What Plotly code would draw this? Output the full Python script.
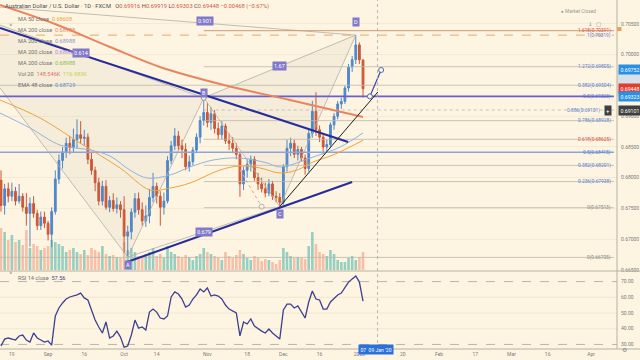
import plotly.graph_objects as go

# ---------------- data ----------------
# trading-day index: 0 = 19 Aug 2019 ... 97 = 03 Jan 2020 (holidays 25 Dec / 1 Jan skipped)
bar_idx = list(range(-3, 98))
opens = [0.6796, 0.6755, 0.6782, 0.6770, 0.6778, 0.6762, 0.6770, 0.6752, 0.6742, 0.6758, 0.6742, 0.6722, 0.6736,
         0.6726, 0.6708, 0.6745, 0.6798, 0.6828, 0.6842, 0.6856, 0.6849, 0.6862, 0.6870, 0.6864, 0.6866, 0.6830, 0.6812,
         0.6792, 0.6762, 0.6786, 0.6752, 0.6763, 0.6750, 0.6756, 0.6748,
         0.6705, 0.6712, 0.6744, 0.6766, 0.6748, 0.6730, 0.6738, 0.6768, 0.6786, 0.6770, 0.6752, 0.6762, 0.6828, 0.6852,
         0.6868, 0.6852, 0.6846, 0.6818, 0.6826, 0.6845, 0.6866, 0.6893,
         0.6906, 0.6890, 0.6904, 0.6880, 0.6870, 0.6884, 0.6860, 0.6856, 0.6848, 0.6838, 0.6790, 0.6812, 0.6822, 0.6830,
         0.6800, 0.6790, 0.6782, 0.6775, 0.6790, 0.6770, 0.6768,
         0.6760, 0.6818, 0.6848, 0.6856, 0.6838, 0.6846, 0.6832, 0.6815, 0.6872, 0.6908, 0.6878, 0.6866, 0.6850, 0.6854,
         0.6886, 0.6900, 0.6920, 0.6924, 0.6946, 0.6980, 0.6992, 0.7016, 0.69916]
highs = [0.6812, 0.6790, 0.6792, 0.6792, 0.6785, 0.6790, 0.6775, 0.6775, 0.6768, 0.6770, 0.6748, 0.6745, 0.6745,
         0.6730, 0.6752, 0.6812, 0.6838, 0.6850, 0.6865, 0.6868, 0.6880, 0.6895, 0.6892, 0.6878, 0.6872, 0.6842, 0.6818,
         0.6800, 0.6795, 0.6796, 0.6770, 0.6775, 0.6768, 0.6762, 0.6770,
         0.6722, 0.6750, 0.6775, 0.6776, 0.6760, 0.6755, 0.6782, 0.6808, 0.6792, 0.6778, 0.6776, 0.6835, 0.6860, 0.6881,
         0.6876, 0.6862, 0.6856, 0.6836, 0.6850, 0.6872, 0.6900, 0.6930,
         0.6922, 0.6915, 0.6910, 0.6890, 0.6892, 0.6888, 0.6872, 0.6866, 0.6856, 0.6842, 0.6818, 0.6830, 0.6836, 0.6835,
         0.6808, 0.6800, 0.6792, 0.6798, 0.6795, 0.6778, 0.6775,
         0.6822, 0.6862, 0.6865, 0.6862, 0.6852, 0.6850, 0.6838, 0.6878, 0.6925, 0.6939, 0.6885, 0.6872, 0.6862, 0.6890,
         0.6905, 0.6925, 0.6930, 0.6950, 0.6985, 0.6998, 0.7032, 0.7020, 0.69919]
lows = [0.6745, 0.6740, 0.6760, 0.6762, 0.6755, 0.6758, 0.6745, 0.6722, 0.6688, 0.6735, 0.6715, 0.6715, 0.6718,
        0.6698, 0.6687, 0.6740, 0.6790, 0.6815, 0.6832, 0.6838, 0.6842, 0.6848, 0.6855, 0.6852, 0.6822, 0.6805, 0.6778,
        0.6755, 0.6755, 0.6748, 0.6744, 0.6745, 0.6742, 0.6735, 0.6678,
        0.6671, 0.6700, 0.6735, 0.6740, 0.6722, 0.6720, 0.6726, 0.6760, 0.6758, 0.6722, 0.6740, 0.6758, 0.6822, 0.6845,
        0.6845, 0.6832, 0.6812, 0.6810, 0.6820, 0.6840, 0.6856, 0.6885,
        0.6882, 0.6878, 0.6872, 0.6862, 0.6862, 0.6855, 0.6845, 0.6840, 0.6830, 0.6769, 0.6780, 0.6800, 0.6810, 0.6795,
        0.6780, 0.6776, 0.6768, 0.6770, 0.6764, 0.6760, 0.6753,
        0.6756, 0.6810, 0.6835, 0.6832, 0.6828, 0.6826, 0.6805, 0.6810, 0.6865, 0.6868, 0.6858, 0.6838, 0.6842, 0.6848,
        0.6878, 0.6895, 0.6912, 0.6920, 0.6940, 0.6972, 0.6985, 0.6985, 0.69303]
closes = [0.6755, 0.6782, 0.6770, 0.6778, 0.6762, 0.6770, 0.6752, 0.6742, 0.6758, 0.6742, 0.6722, 0.6736, 0.6726,
          0.6708, 0.6745, 0.6798, 0.6828, 0.6842, 0.6856, 0.6849, 0.6862, 0.6870, 0.6864, 0.6866, 0.6830, 0.6812, 0.6792,
          0.6762, 0.6786, 0.6752, 0.6763, 0.6750, 0.6756, 0.6748, 0.6705,
          0.6712, 0.6744, 0.6766, 0.6748, 0.6730, 0.6738, 0.6768, 0.6786, 0.6770, 0.6752, 0.6762, 0.6828, 0.6852, 0.6868,
          0.6852, 0.6846, 0.6818, 0.6826, 0.6845, 0.6866, 0.6893, 0.6906,
          0.6890, 0.6904, 0.6880, 0.6870, 0.6884, 0.6860, 0.6856, 0.6848, 0.6838, 0.6790, 0.6812, 0.6822, 0.6830, 0.6800,
          0.6790, 0.6782, 0.6775, 0.6790, 0.6770, 0.6768, 0.6760,
          0.6818, 0.6848, 0.6856, 0.6838, 0.6846, 0.6832, 0.6815, 0.6872, 0.6908, 0.6878, 0.6866, 0.6850, 0.6854, 0.6886,
          0.6900, 0.6920, 0.6924, 0.6946, 0.6980, 0.6992, 0.7016, 0.69916, 0.69448]
volumes_k = [294, 266, 210, 245, 196, 210, 175, 280, 154, 182, 168, 140, 154,
             168, 210, 196, 182, 168, 126, 140, 154, 126, 112, 140, 105, 154, 140, 126, 168, 112, 98, 105, 91, 84, 196,
             140, 154, 126, 98, 84, 112, 126, 154, 98, 112, 84, 168, 126, 112, 98, 84, 105, 91, 70, 98, 112, 154,
             126, 112, 98, 84, 70, 126, 98, 84, 105, 140, 112, 84, 70, 98, 84, 63, 77, 70, 56, 42, 70,
             154, 126, 98, 84, 91, 84, 77, 168, 266, 182, 126, 112, 98, 140, 112, 70, 56, 56, 84, 98, 70, 91, 126]
rsi_values = [29.0, 33.4, 34.1, 33.4, 32.8, 35.4, 36.0, 32.8, 31.5, 37.3, 34.1, 32.8, 31.5,
              32.2, 29.6, 48.1, 53.2, 56.4, 58.9, 60.2, 60.8, 61.5, 62.7, 59.6, 58.3, 51.9, 45.5, 41.1, 37.3, 44.3,
              34.1, 35.4, 38.5, 34.7, 28.3,
              29.0, 36.0, 45.5, 40.4, 41.1, 39.2, 50.6, 52.5, 50.6, 46.8, 46.2, 48.1, 60.2, 63.4, 62.1, 58.9, 53.8,
              55.1, 58.9, 61.5, 65.3, 63.4,
              65.9, 60.8, 61.5, 60.8, 58.9, 55.1, 52.5, 51.3, 50.0, 35.4, 44.3, 43.0, 46.2, 41.7, 39.8, 38.5, 37.3,
              39.8, 37.3, 35.4, 33.4,
              51.9, 55.7, 55.7, 53.2, 54.5, 50.6, 46.8, 57.0, 64.0, 58.9, 58.3, 52.5, 52.5, 57.0, 59.6, 61.5, 62.7,
              66.6, 69.7, 71.7, 73.6, 69.7, 57.56]

# moving averages
ma200_idx = [-3.3, 11.9, 27.1, 40.9, 57.5, 76.8, 97]
ma200_val = [0.70809, 0.70500, 0.70126, 0.69801, 0.69524, 0.69264, 0.68988]
ma50_idx = [-3.3, 7.8, 18.8, 29.9, 38.2, 43.7, 49.2, 57.5, 63.0, 68.6, 74.1, 78.8, 83.2, 88.7, 97]
ma50_val = [0.69264, 0.68971, 0.68565, 0.68158, 0.67801, 0.67833, 0.67914, 0.68126, 0.68191, 0.68158,
            0.68077, 0.68126, 0.68256, 0.68370, 0.68608]
ema48_idx = [-3.3, 5.0, 13.3, 21.6, 27.1, 32.6, 37.3, 43.7, 49.2, 55.6, 63.0, 70.5, 74.1, 83.2, 90.7, 97]
ema48_val = [0.69053, 0.68809, 0.68532, 0.68451, 0.68353, 0.68126, 0.67996, 0.68045, 0.68175, 0.68288,
             0.68321, 0.68240, 0.68175, 0.68337, 0.68500, 0.68729]

# harmonic XABCD pattern
pattern_names = ["X", "A", "B", "C", "D"]
pattern_idx = [-21.2, 32, 53, 74, 95]
pattern_price = [0.70858, 0.6671, 0.6930, 0.6753, 0.7032]
ratio_text = ["0.614", "0.679", "1.67", "0.901"]
ratio_idx = [19.0, 53, 74, 53.4]
ratio_price = [0.70030, 0.6712, 0.6981, 0.70545]

# trend lines
navy1_idx, navy1_price = [-3.3, 92.9], [0.70435, 0.68581]
navy2_idx, navy2_price = [31.8, 94.0], [0.66630, 0.67931]
black_idx, black_price = [74, 101.1], [0.6753, 0.69394]
arrow_idx, arrow_price = [98.9, 102.0], [0.69323, 0.69752]
dash_idx, dash_price = [63, 69], [0.6813, 0.6753]

# fibonacci levels
fib_price = [0.70391, 0.70319, 0.69805, 0.69504, 0.69323, 0.69101, 0.68928, 0.68625, 0.68415, 0.68201,
             0.67938, 0.67513, 0.66705]
fib_label = ["1.618(0.70391)", "1(0.70319)", "1.272(0.69805)", "0.382(0.69504)", "0.5(0.69323)",
             "0.886(0.69101)", "0.786(0.68928)", "0.618(0.68625)", "0.5(0.68415)", "0.382(0.68201)",
             "0.236(0.67938)", "0(0.67513)", "0(0.66705)"]
fib_start = [53, -3.3, 53, -3.3, -3.3, 53, 53, 53, -3.3, 53, 53, 53, -3.3]

price_ticks = [0.665, 0.670, 0.675, 0.680, 0.685, 0.690, 0.700, 0.705]
rsi_ticks = [30, 40, 50, 60, 70]
tick_idx = [0, 10, 20, 31, 40, 54, 65, 75, 85, 96, 108, 118, 128, 138, 148, 160]
tick_text = ["19", "Sep", "16", "Oct", "14", "Nov", "18", "Dec", "16", "2020", "20", "Feb", "17", "Mar", "16", "Apr"]

# ---------------- styling ----------------
W, H = 640, 360
MR, MB = 23, 11
PW, PH = W - MR, H - MB
BG = "#fdf5e2"
UP, DN = "#4f88cb", "#cf5634"
BLUE_T, RED_T, GRAY_T = "#5a7fd6", "#e0533d", "#8a8a8a"
FONT = "Roboto, Arial, sans-serif"
X0, X1 = -3.28, 167.16


def px(x):
    return x / PW


def py(y):
    return 1 - y / PH


fig = go.Figure()

vol_colors = ["rgba(38,166,154,0.48)" if c >= o else "rgba(240,110,80,0.40)" for o, c in zip(opens, closes)]
fig.add_trace(go.Bar(x=bar_idx, y=volumes_k, marker=dict(color=vol_colors, line=dict(width=0)),
                     width=0.72, xaxis="x", yaxis="y", hoverinfo="skip"))

# pattern fills
for tri in ([0, 1, 2], [2, 3, 4]):
    fig.add_trace(go.Scatter(x=[pattern_idx[k] for k in tri + [tri[0]]],
                             y=[pattern_price[k] for k in tri + [tri[0]]],
                             mode="lines", fill="toself", fillcolor="rgba(140,128,118,0.065)",
                             line=dict(color="#b3aea6", width=0.8), yaxis="y3", hoverinfo="skip"))
for a, b in ((1, 3), (0, 4)):
    fig.add_trace(go.Scatter(x=[pattern_idx[a], pattern_idx[b]], y=[pattern_price[a], pattern_price[b]],
                             mode="lines", line=dict(color="#b3aea6", width=0.8), yaxis="y3", hoverinfo="skip"))

# fib lines
for p, s, lab in zip(fib_price, fib_start, fib_label):
    col, wd, dash = "#bdb6aa", 0.8, "solid"
    if lab.startswith("1.618"):
        col, wd = "#c99a76", 1
    elif lab == "1(0.70319)":
        col, wd, dash = "#eda46a", 1, "dash"
    elif p == 0.69323:
        col, wd = "#6c5fc8", 1.6
    elif p == 0.68415:
        col, wd = "#8ea3d8", 1.4
    elif p == 0.69101:
        dash = "dot"
    fig.add_trace(go.Scatter(x=[s, 166.3], y=[p, p], mode="lines", line=dict(color=col, width=wd, dash=dash),
                             yaxis="y3", hoverinfo="skip"))

fig.add_trace(go.Candlestick(x=bar_idx, open=opens, high=highs, low=lows, close=closes,
                             increasing=dict(line=dict(color=UP, width=1), fillcolor=UP),
                             decreasing=dict(line=dict(color=DN, width=1), fillcolor=DN),
                             whiskerwidth=0, yaxis="y3", hoverinfo="skip"))

fig.add_trace(go.Scatter(x=ma200_idx, y=ma200_val, mode="lines", line=dict(color="#e8845f", width=2, shape="spline"),
                         yaxis="y3", hoverinfo="skip"))
fig.add_trace(go.Scatter(x=ma50_idx, y=ma50_val, mode="lines", line=dict(color="#f0a23c", width=1, shape="spline"),
                         yaxis="y3", hoverinfo="skip"))
fig.add_trace(go.Scatter(x=ema48_idx, y=ema48_val, mode="lines", line=dict(color="#93b3da", width=1, shape="spline"),
                         yaxis="y3", hoverinfo="skip"))

# trendlines
fig.add_trace(go.Scatter(x=navy1_idx, y=navy1_price, mode="lines", line=dict(color="#262c9c", width=2),
                         yaxis="y3", hoverinfo="skip"))
fig.add_trace(go.Scatter(x=navy2_idx, y=navy2_price, mode="lines", line=dict(color="#262c9c", width=2),
                         yaxis="y3", hoverinfo="skip"))
fig.add_trace(go.Scatter(x=black_idx, y=black_price, mode="lines", line=dict(color="#1d1d1d", width=1),
                         yaxis="y3", hoverinfo="skip"))
fig.add_trace(go.Scatter(x=dash_idx, y=dash_price, mode="lines+markers", line=dict(color="#e8a08a", width=1, dash="dot"),
                         marker=dict(size=[0, 5], color=BG, line=dict(color="#9a9a9a", width=1)),
                         yaxis="y3", hoverinfo="skip"))
fig.add_trace(go.Scatter(x=arrow_idx, y=arrow_price, mode="lines+markers", line=dict(color="#3b3bb0", width=1.2),
                         marker=dict(size=5, color=BG, line=dict(color="#3b6fc0", width=1)),
                         yaxis="y3", hoverinfo="skip"))
fig.add_trace(go.Scatter(x=[pattern_idx[2]], y=[pattern_price[2]], mode="markers",
                         marker=dict(size=5, color=BG, line=dict(color="#9a9a9a", width=1)),
                         yaxis="y3", hoverinfo="skip"))

# RSI
fig.add_trace(go.Scatter(x=bar_idx, y=rsi_values, mode="lines", line=dict(color="#3d3f93", width=1.3),
                         xaxis="x", yaxis="y2", hoverinfo="skip"))

ann = []
shapes = []

# fib labels
for p, lab in zip(fib_price, fib_label):
    c = RED_T if lab.startswith("1.618") or lab.startswith("0.618") else (GRAY_T if lab.startswith("0(") else BLUE_T)
    xe = 163.0 if p == 0.69101 else 166.0
    ann.append(dict(x=xe, y=p, xref="x", yref="y3", text=lab, showarrow=False, xanchor="right",
                    yanchor="middle", font=dict(size=4.8, color=c, family=FONT)))

# pattern point labels
shifts = {"A": -8, "B": 5, "C": -7, "D": 13}
for n, i, p in zip(pattern_names, pattern_idx, pattern_price):
    if n == "X":
        continue
    ann.append(dict(x=i, y=p, xref="x", yref="y3", text=n, showarrow=False, yshift=shifts[n],
                    font=dict(size=5.5, color="white", family=FONT), bgcolor="#8179c9", borderpad=1))
for t, i, p in zip(ratio_text, ratio_idx, ratio_price):
    ann.append(dict(x=i, y=p, xref="x", yref="y3", text=t, showarrow=False,
                    font=dict(size=5.5, color="white", family=FONT), bgcolor="#8179c9", borderpad=1))

# legend texts
LG = "#707070"
ann.append(dict(x=px(3), y=py(6.5), xref="paper", yref="paper", xanchor="left", yanchor="middle", showarrow=False,
                text="Australian Dollar / U.S. Dollar · 1D · FXCM   "
                     "O<span style='color:#d4554a'>0.69916</span> H<span style='color:#d4554a'>0.69919</span> "
                     "L<span style='color:#d4554a'>0.69303</span> C<span style='color:#d4554a'>0.69448</span> "
                     "<span style='color:#d4554a'>−0.00468 (−0.67%)</span>",
                font=dict(size=5.8, color="#4d4d4d", family=FONT)))
legend_rows = [("MA 50 close", "<span style='color:#f0a23c'>0.68608</span>"),
               ("MA 200 close", "<span style='color:#e8845f'>0.68988</span>"),
               ("MA 200 close", "<span style='color:#8d95cf'>0.68988</span>"),
               ("MA 200 close", "<span style='color:#b58ad0'>0.68988</span>"),
               ("MA 200 close", "<span style='color:#8cbf4a'>0.68988</span>"),
               ("Vol 20", "<span style='color:#e07070'>148.546K</span>  <span style='color:#c6d24a'>116.983K</span>"),
               ("EMA 48 close", "<span style='color:#5b8fd0'>0.68729</span>")]
for k, (lab, val) in enumerate(legend_rows):
    ann.append(dict(x=px(16), y=py(19 + 11 * k), xref="paper", yref="paper", xanchor="left", yanchor="middle",
                    showarrow=False, text=f"{lab}  {val}", font=dict(size=5.6, color=LG, family=FONT)))
ann.append(dict(x=px(7), y=py(19), xref="paper", yref="paper", showarrow=False, text="˅",
                font=dict(size=6, color=LG, family=FONT)))
ann.append(dict(x=px(16), y=py(278), xref="paper", yref="paper", xanchor="left", yanchor="middle", showarrow=False,
                text="RSI 14 close  <span style='color:#3d3f93'>57.56</span>", font=dict(size=5.6, color=LG, family=FONT)))
ann.append(dict(x=px(7), y=py(278), xref="paper", yref="paper", showarrow=False, text="˅",
                font=dict(size=6, color=LG, family=FONT)))
ann.append(dict(x=px(598), y=py(7), xref="paper", yref="paper", showarrow=False, text="● Market Closed",
                font=dict(size=4.8, color="#9a9a9a", family=FONT)))
ann.append(dict(x=px(603), y=py(19), xref="paper", yref="paper", showarrow=False, text="↓  ▢",
                font=dict(size=5.5, color="#8a8a8a", family="DejaVu Sans")))

# price boxes on the axis
shapes.append(dict(type="rect", xref="paper", yref="y3", x0=1, x1=W / PW, y0=0.69323, y1=0.69752,
                   fillcolor="rgba(120,180,240,0.30)", line=dict(width=0), layer="above"))
for p, col in ((0.69752, "#2a8fe6"), (0.69448, "#e23b30"), (0.69323, "#2a8fe6"), (0.69101, "#3f3f3f")):
    ann.append(dict(x=1.0, y=p, xref="paper", yref="y3", text=f"{p:.5f}", showarrow=False, xanchor="left",
                    xshift=1, font=dict(size=5.2, color="white", family=FONT), bgcolor=col, borderpad=1.5))
ann.append(dict(x=px(612), y=0.69101, xref="paper", yref="y3", text="+", showarrow=False,
                font=dict(size=6, color="white", family=FONT), bgcolor="#3f3f3f", borderpad=1))
shapes.append(dict(type="rect", xref="paper", yref="paper", x0=1, x1=px(621.5), y0=py(31), y1=py(27),
                   fillcolor="#f0a050", line=dict(width=0), layer="above"))

# crosshair and date box
shapes.append(dict(type="line", xref="x", yref="paper", x0=101, x1=101, y0=0, y1=1,
                   line=dict(color="#a9a9a9", width=0.8, dash="dot")))
ann.append(dict(x=100.6, y=py(354.5), xref="x", yref="paper", text="07  09 Jan '20", showarrow=False,
                font=dict(size=5, color="white", family=FONT), bgcolor="#2a6fdb", borderpad=1.5))
ann.append(dict(x=px(628.5), y=py(355), xref="paper", yref="paper", text="⚙", showarrow=False,
                font=dict(size=6, color="#8a8a8a", family="DejaVu Sans")))

# RSI reference lines
for v in rsi_ticks:
    shapes.append(dict(type="line", xref="paper", yref="y2", x0=0, x1=1, y0=v, y1=v,
                       line=dict(color="#a9a39a" if v in (30, 70) else "#efe5cc", width=0.8,
                                 dash="dash" if v in (30, 70) else "solid"), layer="below"))
# frame lines
shapes.append(dict(type="line", xref="paper", yref="paper", x0=1, x1=1, y0=0, y1=1,
                   line=dict(color="#b9b1a1", width=1)))
shapes.append(dict(type="line", xref="paper", yref="paper", x0=0, x1=W / PW, y0=py(271), y1=py(271),
                   line=dict(color="#b9b1a1", width=1)))
shapes.append(dict(type="line", xref="paper", yref="paper", x0=0, x1=W / PW, y0=0, y1=0,
                   line=dict(color="#b9b1a1", width=1)))

fig.update_layout(
    width=W, height=H, margin=dict(l=0, r=MR, t=0, b=MB),
    paper_bgcolor=BG, plot_bgcolor=BG, showlegend=False,
    font=dict(family=FONT),
    xaxis=dict(domain=[0, 1], range=[X0, X1], anchor="y2", tickmode="array", tickvals=tick_idx,
               ticktext=tick_text, tickfont=dict(size=5, color="#7a7a7a"), showgrid=False, zeroline=False,
               showline=False, ticks="", rangeslider=dict(visible=False), ticklabelstandoff=1),
    yaxis=dict(domain=[py(270), 1], range=[0, 1890], visible=False, fixedrange=True),
    yaxis3=dict(overlaying="y", side="right", anchor="x", range=[0.665, 0.7089], tickmode="array",
                tickvals=price_ticks, ticktext=[f"{v:.5f}" for v in price_ticks],
                tickfont=dict(size=5, color="#7a7a7a"), showgrid=True, gridcolor="#f4ebd4",
                zeroline=False, showline=False, ticks="", ticklabelstandoff=3),
    yaxis2=dict(domain=[0, py(272)], range=[27.1, 76.1], side="right", anchor="x", tickmode="array",
                tickvals=rsi_ticks, ticktext=[f"{v:.2f}" for v in rsi_ticks],
                tickfont=dict(size=5, color="#7a7a7a"), showgrid=False, zeroline=False, ticks="",
                ticklabelstandoff=3),
    annotations=ann, shapes=shapes,
)

fig.write_html("out.html")
